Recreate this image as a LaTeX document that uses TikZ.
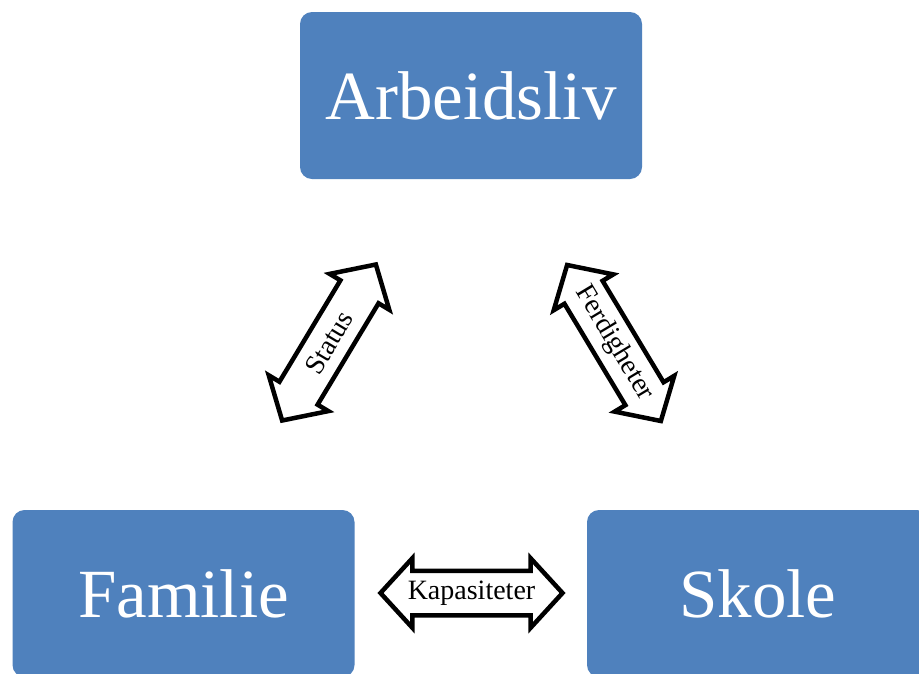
\documentclass[tikz,border=0pt]{standalone}
\usepackage{fontspec}
\setmainfont{Liberation Serif}
\usetikzlibrary{shapes.arrows}
\definecolor{boxblue}{HTML}{4F81BD}
\begin{document}
\begin{tikzpicture}[x=1pt,y=-1pt,
  box/.style={fill=boxblue, rounded corners=12pt, minimum width=342pt, minimum height=167pt,
    text=white, font=\fontsize{69}{80}\selectfont, inner sep=0pt},
  bigarrow/.style={double arrow, draw=black, fill=white, line width=4.5pt, minimum height=182pt,
    double arrow head extend=12.5pt, double arrow tip angle=95, inner xsep=0pt, inner ysep=20pt,
    text height=0pt, text depth=0pt},
  arrowtext/.style={font=\fontsize{28}{30}\selectfont, inner sep=0pt}]
\clip (0,0) rectangle (919,673);
\fill[white] (0,0) rectangle (919,673);
\node[box] (arb) at (471,95.5) {Arbeidsliv};
\node[box] (fam) at (183.5,593.5) {Familie};
\node[box] (sko) at (758,593.5) {Skole};
\node[bigarrow, rotate=59] (a1) at (329,342.5) {};
\node[arrowtext, rotate=59] (t1) at (a1.center) {Status};
\node[bigarrow, rotate=-59] (a2) at (614,343) {};
\node[arrowtext, rotate=-59] (t2) at (a2.center) {Ferdigheter};
\node[bigarrow] (a3) at (471.5,593) {};
\node[arrowtext] (t3) at (a3.center) {Kapasiteter};
\end{tikzpicture}
\end{document}
